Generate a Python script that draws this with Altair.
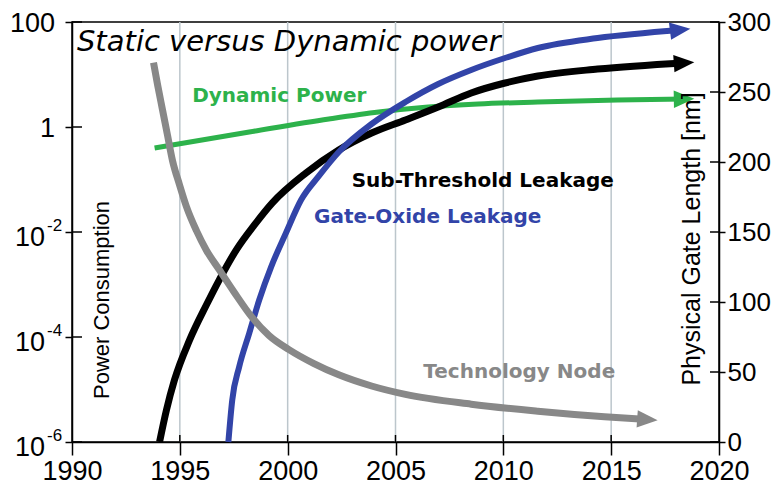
import altair as alt
import pandas as pd

# ---------------- data ----------------
dyn_years = [1993.83, 1998.22, 2001.91, 2004.22, 2006.52, 2008.83, 2011.6, 2015.29, 2018.38]
dyn_power = [0.398, 0.803, 1.42, 1.93, 2.40, 2.74, 2.99, 3.27, 3.41]

sub_years = [1994.06, 1994.38, 1994.75, 1995.45, 1996.23, 1996.83, 1997.62, 1998.45,
             1999.28, 2000.85, 2002.37, 2003.89, 2005.46, 2006.98, 2008.51, 2010.08,
             2011.6, 2014.37, 2018.38]
sub_power = [1e-6, 4.07e-6, 1.51e-5, 8.7e-5, 4.07e-4, 1.23e-3, 4.57e-3, 0.0135,
             0.0355, 0.133, 0.365, 0.769, 1.36, 2.40, 4.45, 6.89,
             9.36, 12.7, 16.6]

gate_years = [1997.25, 1997.43, 1997.75, 1998.22, 1998.68, 1999.23, 1999.92, 2000.62,
              2001.45, 2002.37, 2003.89, 2005.46, 2006.98, 2008.51, 2010.08, 2011.6,
              2014.37, 2018.2]
gate_power = [1e-6, 6.3e-6, 2.69e-5, 1.19e-4, 5.07e-4, 2.15e-3, 9.57e-3, 0.0407,
              0.117, 0.334, 1.14, 2.99, 6.59, 12.2, 20.6, 32.0,
              49.5, 70.5]

node_years = [1993.78, 1993.97, 1994.2, 1994.43, 1994.66, 1994.98, 1995.31, 1995.77,
              1996.23, 1996.83, 1997.52, 1998.35, 1999.14, 2000.06, 2001.22, 2002.37,
              2003.89, 2005.46, 2008.51, 2011.6, 2014.69, 2016.68]
node_nm = [271, 255, 237, 219, 201, 184, 168, 151,
           137, 123, 107, 89, 76, 66, 56, 48,
           40, 34, 27, 22, 18, 16]

x_ticks = [1990, 1995, 2000, 2005, 2010, 2015, 2020]
grid_years = [1995, 2000, 2005, 2010, 2015]
left_ticks = [100, 1, 1e-2, 1e-4, 1e-6]
left_plain = ["100", "1"]
left_exp = ["-2", "-4", "-6"]
right_ticks = [0, 50, 100, 150, 200, 250, 300]

labels = ["Dynamic Power", "Sub-Threshold Leakage", "Gate-Oxide Leakage", "Technology Node"]
label_years = [1995.57, 2002.97, 2001.22, 2006.29]
label_power = [3.03, 0.0729, 0.01483, 1.656e-5]
title_text = "Static versus Dynamic power"
title_year, title_power = 1990.23, 28.4
left_title, left_title_year, left_title_power = "Power Consumption", 1991.71, 5.07e-4
right_title, right_title_year, right_title_power = "Physical Gate Length [nm]", 2019.12, 0.00736

# ---------------- styling ----------------
W, H = 647, 420
GREEN = "#2DB24B"
BLUE = "#3244A8"
GRAY = "#888888"
GRID = "#BCC6CC"
ARROW = "M-1,-0.85L1,0L-1,0.85Z"

xs = alt.Scale(domain=[1990, 2020], nice=False, zero=False)
ylog = alt.Scale(type="log", domain=[1e-6, 100], nice=False)
ynm = alt.Scale(domain=[0, 300], nice=False, zero=True)
x_axis = alt.Axis(values=x_ticks, format="d", tickSize=13, labelPadding=3, title=None,
                  labelFlush=False, labelOverlap=False)


def X(field="year"):
    return alt.X(f"{field}:Q", scale=xs, axis=x_axis)


def YL(field="p"):
    return alt.Y(f"{field}:Q", scale=ylog, axis=None)


# grid lines (vertical)
grid = alt.Chart(pd.DataFrame({"year": grid_years})).mark_rule(
    color=GRID, strokeWidth=1.5
).encode(x=X())

x_in = alt.Chart(pd.DataFrame({"year": grid_years})).mark_rule(
    color="black", strokeWidth=1.5
).encode(x=X(), y=alt.value(H), y2=alt.value(H - 7))

# curves
dyn_df = pd.DataFrame({"year": dyn_years, "p": dyn_power})
sub_df = pd.DataFrame({"year": sub_years, "p": sub_power})
gate_df = pd.DataFrame({"year": gate_years, "p": gate_power})
node_df = pd.DataFrame({"year": node_years, "nm": node_nm})

dyn = alt.Chart(dyn_df).mark_line(color=GREEN, strokeWidth=5, interpolate="monotone").encode(
    x=X(),
    y=alt.Y("p:Q", scale=ylog,
            axis=alt.Axis(values=left_ticks, labels=False, tickSize=7, title=None))
)
sub = alt.Chart(sub_df).mark_line(color="black", strokeWidth=7, interpolate="monotone").encode(x=X(), y=YL())
gate = alt.Chart(gate_df).mark_line(color=BLUE, strokeWidth=6, interpolate="monotone").encode(x=X(), y=YL())
node = alt.Chart(node_df).mark_line(color=GRAY, strokeWidth=7, interpolate="monotone").encode(
    x=X(),
    y=alt.Y("nm:Q", scale=ynm,
            axis=alt.Axis(orient="right", values=right_ticks, tickSize=6, labelPadding=2,
                          labelFontSize=26, title=None, labelFlush=False, labelOverlap=False))
)


def head(df, field, scale, color, angle):
    return alt.Chart(df.tail(1)).mark_point(
        shape=ARROW, filled=True, size=420, angle=angle, color=color, opacity=1, strokeWidth=0
    ).encode(x=X(), y=alt.Y(f"{field}:Q", scale=scale, axis=None))


dyn_h = head(dyn_df, "p", ylog, GREEN, 359)
sub_h = head(sub_df, "p", ylog, "black", 356)
gate_h = head(gate_df, "p", ylog, BLUE, 353)
node_h = head(node_df, "nm", ynm, GRAY, 4)

# inward ticks of the two vertical axes
l_in = alt.Chart(pd.DataFrame({"p": left_ticks})).mark_rule(color="black", strokeWidth=1.5).encode(
    y=YL(), x=alt.value(0), x2=alt.value(10))
r_in = alt.Chart(pd.DataFrame({"nm": right_ticks})).mark_rule(color="black", strokeWidth=1.5).encode(
    y=alt.Y("nm:Q", scale=ynm, axis=None), x=alt.value(W - 9), x2=alt.value(W))

# left tick labels (100, 1, 10^-n)
lab_font = dict(font="Liberation Sans", fontSize=27, color="black")
l_plain = alt.Chart(pd.DataFrame({"p": left_ticks[:2], "t": left_plain})).mark_text(
    align="right", baseline="middle", dy=2, **lab_font).encode(y=YL(), x=alt.value(-17), text="t:N")
l_ten = alt.Chart(pd.DataFrame({"p": left_ticks[2:], "t": ["10"] * 3})).mark_text(
    align="right", baseline="middle", dy=6, **lab_font).encode(y=YL(), x=alt.value(-27), text="t:N")
l_sup = alt.Chart(pd.DataFrame({"p": left_ticks[2:], "t": left_exp})).mark_text(
    align="left", baseline="middle", dy=-6, font="Liberation Sans", fontSize=17, color="black"
).encode(y=YL(), x=alt.value(-25), text="t:N")

# annotations
ann_df = pd.DataFrame({"year": label_years, "p": label_power, "t": labels,
                       "c": [GREEN, "black", BLUE, GRAY]})
ann = alt.Chart(ann_df).mark_text(
    align="left", baseline="alphabetic", font="DejaVu Sans", fontWeight="bold", fontSize=20
).encode(x=X(), y=YL(), text="t:N", color=alt.Color("c:N", scale=None))

ttl = alt.Chart(pd.DataFrame({"year": [title_year], "p": [title_power], "t": [title_text]})).mark_text(
    align="left", baseline="alphabetic", font="DejaVu Sans", fontStyle="italic", fontSize=29, color="black"
).encode(x=X(), y=YL(), text="t:N")

lt = alt.Chart(pd.DataFrame({"year": [left_title_year], "p": [left_title_power], "t": [left_title]})).mark_text(
    align="center", baseline="alphabetic", angle=270, font="Liberation Sans", fontSize=22, color="black"
).encode(x=X(), y=YL(), text="t:N")

rt = alt.Chart(pd.DataFrame({"year": [right_title_year], "p": [right_title_power], "t": [right_title]})).mark_text(
    align="center", baseline="alphabetic", angle=270, font="Liberation Sans", fontSize=25, color="black"
).encode(x=X(), y=YL(), text="t:N")

chart = alt.layer(
    grid, x_in, dyn, sub, gate, node, dyn_h, sub_h, gate_h, node_h,
    l_in, r_in, l_plain, l_ten, l_sup, ann, ttl, lt, rt
).resolve_scale(y="independent").properties(
    width=W, height=H,
    autosize=alt.AutoSizeParams(type="none"),
    padding={"left": 64, "top": 14, "right": 52, "bottom": 46},
    background="white",
).configure_view(
    stroke="black", strokeWidth=1.5
).configure_axis(
    domainColor="black", domainWidth=1.5, tickColor="black", tickWidth=1.5,
    labelFont="Liberation Sans", labelFontSize=27, labelColor="black", grid=False
)

chart.save("out.html", embed_options={"renderer": "svg", "actions": False})
